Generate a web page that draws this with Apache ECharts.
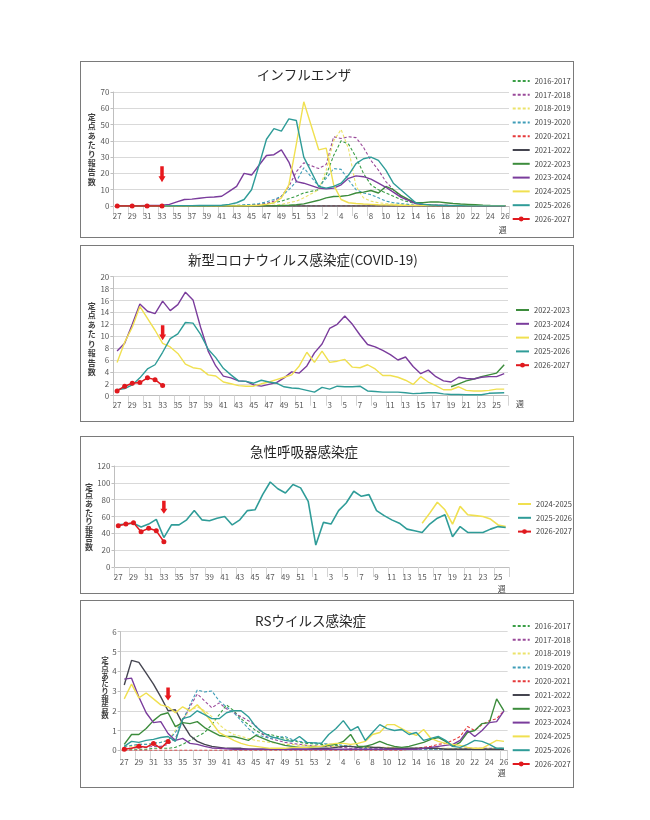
<!DOCTYPE html>
<html><head><meta charset="utf-8">
<script src="https://cdn.jsdelivr.net/npm/echarts@6/dist/echarts.min.js"></script>
<style>
body{margin:0;background:#fff;width:650px;height:820px;position:relative;overflow:hidden;}
.chart{position:absolute;left:80px;width:494px;}
.frame{position:absolute;left:80px;width:494px;border:1.3px solid #7a7a7a;box-sizing:border-box;pointer-events:none;}
</style></head><body>
<div id="p1" class="chart" style="top:61px;height:177px"></div><div class="frame" style="top:61px;height:177px"></div>
<div id="p2" class="chart" style="top:245px;height:177px"></div><div class="frame" style="top:245px;height:177px"></div>
<div id="p3" class="chart" style="top:436px;height:158px"></div><div class="frame" style="top:436px;height:158px"></div>
<div id="p4" class="chart" style="top:600px;height:188px"></div><div class="frame" style="top:600px;height:188px"></div>
<script>
// ---------- categories ----------
const weeks53 = ['27','28','29','30','31','32','33','34','35','36','37','38','39','40','41','42','43','44','45','46','47','48','49','50','51','52','53',
  '1','2','3','4','5','6','7','8','9','10','11','12','13','14','15','16','17','18','19','20','21','22','23','24','25','26'];
const weeks52 = ['27','28','29','30','31','32','33','34','35','36','37','38','39','40','41','42','43','44','45','46','47','48','49','50','51','52',
  '1','2','3','4','5','6','7','8','9','10','11','12','13','14','15','16','17','18','19','20','21','22','23','24','25','26'];
const seasons = ['2016-2017','2017-2018','2018-2019','2019-2020','2020-2021','2021-2022','2022-2023','2023-2024','2024-2025','2025-2026','2026-2027'];

// ---------- インフルエンザ ----------
const flu1617 = [0.1,0.1,0.1,0.1,0.1,0.1,0.1,0.1,0.1,0.1, 0.1,0.1,0.1,0.2,0.2,0.3,0.4,0.5,0.7,1, 1.5,2,3,4.5,6,8,null,10,19,31, 40,38,30,20,13,10,8,6,4,2.5, 1.5,1,0.7,0.5,0.4,0.3,0.3,0.2,0.2,0.1, 0.1,0.1,0.1];
const flu1718 = [0.1,0.1,0.1,0.1,0.1,0.1,0.1,0.1,0.1,0.1, 0.1,0.1,0.1,0.1,0.1,0.1,0.1,0.3,0.5,0.8, 1.5,3,6,12,21,26.5,null,23,25.5,42.5, 41.5,42.5,42,36,28,22,15,10,6,3.5, 2,1,0.6,0.4,0.3,0.2,0.1,0.1,0.1,0.1, 0.1,0.1,0.1];
const flu1819 = [0.1,0.1,0.1,0.1,0.1,0.1,0.1,0.1,0.1,0.1, 0.1,0.1,0.1,0.1,0.1,0.1,0.1,0.1,0.1,0.1, 0.1,0.5,1,2,3,5,null,10,22,40, 47,35,12,5,3,2,1.5,1.2,1,0.7, 0.5,0.4,0.3,0.2,0.1,0.1,0.1,0.1,0.1,0.1, 0.1,0.1,0.1];
const flu1920 = [0.3,0.3,0.3,0.3,0.3,0.3,0.3,0.3,0.3,0.3, 0.3,0.3,0.3,0.3,0.3,0.3,0.3,0.7,1,1.5, 2.5,4,6,10,15,23.5,null,12,17,23, 22.5,16,10,8,7,5,3,2,1.5,1, 0.5,0.3,0.1,0.1,0.1,0.1,0.1,0.1,0.1,0.1, 0.1,0.1,0.1];
const flu2021 = [0,0,0,0,0,0,0,0,0,0, 0,0,0,0,0,0,0,0,0,0, 0,0,0,0,0,0,0,0,0,0, 0,0,0,0,0,0,0,0,0,0, 0,0,0,0,0,0,0,0,0,0, 0,0,0];
const flu2122 = [0,0,0,0,0,0,0,0,0,0, 0,0,0,0,0,0,0,0,0,0, 0,0,0,0,0,0,null,0,0,0, 0,0,0,0,0,0,0,0,0,0, 0,0,0,0,0,0,0,0,0,0, 0,0,0];
const flu2223 = [0.1,0.1,0.1,0.1,0.1,0.1,0.1,0.1,0.1,0.1, 0.1,0.1,0.1,0.1,0.1,0.1,0.1,0.1,0.1,0.1, 0.1,0.1,0.3,0.5,0.8,1.3,null,3.5,5,5.8, 6,6.5,8,8.5,9.5,8,12,10,6.5,4, 2,2,2.5,2.5,2,1.5,1.2,1,0.8,0.5, 0.3,0.2,0.2];
const flu2324 = [0.1,0.1,0.2,0.2,0.3,0.4,0.5,1,2.5,4, 4.2,4.8,5.3,5.5,6,9,12,20,19,25, 31,31.5,34.5,27,15,14,null,11,10.5,11, 13,17,18.5,18,16.5,14,11.5,8.5,5.5,3.5, 1.5,0.8,0.5,0.4,0.3,0.2,0.2,0.1,0.1,0.1, 0.1,0.1,0.1];
const flu2425 = [0.1,0.1,0.1,0.1,0.1,0.1,0.1,0.1,0.1,0.1, 0.1,0.1,0.1,0.1,0.1,0.1,0.1,0.1,0.3,0.5, 1,2,5,13,38,64,null,34.5,35.5,13, 4,2,1.5,1.2,1,0.8,0.7,0.6,0.5,0.4, 0.3,0.2,0.2,0.2,0.2,0.2,0.2,0.2,0.2,0.2, 0.2,0.2,0.2];
const flu2526 = [0.1,0.1,0.1,0.1,0.1,0.1,0.1,0.1,0.2,0.2, 0.2,0.3,0.3,0.4,0.5,1,2,4,10,25, 41,47.5,46,53.5,52.5,30,null,12,11,12, 14,19,26,29,30,28,22,14,10,6, 2,1,0.6,0.4,0.3,0.2,0.2,0.1,0.1,0.1, 0.1,0.1,0.1];
const flu2627 = [0,0,0,0,0,0,0];

// ---------- 新型コロナウイルス感染症 ----------
const cov2223 = [null,null,null,null,null,null,null,null,null,null, null,null,null,null,null,null,null,null,null,null, null,null,null,null,null,null,null,null,null,null, null,null,null,null,null,null,null,null,null,null, null,null,null,null,1.5,2,2.5,2.8,3.2,3.5, 3.8,5.2];
const cov2324 = [7.5,8.8,12,15.4,14.2,13.8,15.9,14.3,15.3,17.4, 16.1,11.5,7.5,5,3.3,3.0,2.5,2.4,1.8,1.6, 1.9,2.2,3,4,3.8,5,7.2,8.7,11.3,12, 13.4,12,10.2,8.6,8.2,7.6,6.9,6,6.5,4.9, 3.7,4.3,3.2,2.5,2.3,3.1,2.9,2.8,3.1,3.2, 3.2,3.7];
const cov2425 = [5.6,9,11.5,15,13,11,8.8,8.2,7.1,5.3, 4.7,4.5,3.5,3.3,2.3,2,1.7,1.6,1.6,2, 2.3,2.7,3.1,3.5,5,7.3,5.6,7.5,5.6,5.8, 6.1,4.8,4.7,5.2,4.5,3.4,3.4,3.1,2.6,1.9, 3.2,2.3,1.7,1,1,1.5,0.9,0.8,0.8,0.9, 1.1,1.1];
const cov2526 = [1,1.2,1.8,3,4.5,5.2,7.3,9.6,10.4,12.3, 12.2,10.3,7.8,6.4,4.6,3.5,2.5,2.4,2.1,2.6, 2.3,2.1,1.5,1.3,1.2,0.9,0.6,1.4,1.1,1.6, 1.5,1.5,1.6,0.8,0.7,0.6,0.6,0.6,0.5,0.35, 0.4,0.5,0.5,0.3,0.2,0.2,0.15,0.15,0.15,0.4, 0.45,0.5];
const cov2627 = [0.8,1.6,2.1,2.2,3.0,2.7,1.7];

// ---------- 急性呼吸器感染症 ----------
const ari2425 = [null,null,null,null,null,null,null,null,null,null, null,null,null,null,null,null,null,null,null,null, null,null,null,null,null,null,null,null,null,null, null,null,null,null,null,null,null,null,null,null, 52,64,77,68,51,72,62,61,60,57, 50,48];
const ari2526 = [50,51,52,47.5,51,56.6,35,50,50,56, 67,56,55,58,60,50,56,67,68,86, 101,93,88,98,94,78,26,53,51,67, 76,90,84,86,67,61,56,52,45,43, 41,51,58,62,36,48,41,41,41,45, 48,47];
const ari2627 = [49,51,52.5,42,46,43,30];

// ---------- RSウイルス感染症 ----------
const rs1617 = [0.05,0.05,0.05,0.05,0.1,0.1,0.1,0.15,0.3,0.5, 0.7,0.9,1.3,1.8,2.3,2.0,1.6,1.3,1.0,0.8, 0.8,0.7,0.6,0.5,0.4,0.35,null,0.3,0.3,0.25, 0.2,0.2,0.15,0.15,0.15,0.1,0.1,0.1,0.1,0.1, 0.1,0.1,0.05,0.05,0.05,0.05,0.05,0.05,0.05,0.05, 0.05,0.05,0.05];
const rs1718 = [0.1,0.1,0.15,0.15,0.2,0.2,0.3,0.6,1.5,2.2, 2.85,2.5,2.15,2.4,2.1,1.9,1.7,1.5,1.25,0.8, 0.6,0.5,0.4,0.35,0.3,0.25,null,0.2,0.2,0.15, 0.15,0.1,0.1,0.1,0.1,0.1,0.1,0.05,0.05,0.05, 0.05,0.05,0.05,0.05,0.05,0.05,0.1,0.1,0.1,0.1, 0.1,0.1,0.1];
const rs1819 = [0.2,0.2,0.3,0.3,0.35,0.4,0.5,1.0,1.6,2.0, 2.2,2.0,1.7,1.3,1.0,0.8,0.7,0.6,0.5,0.45, 0.4,0.35,0.3,0.3,0.25,0.25,null,0.2,0.2,0.2, 0.2,0.2,0.2,0.15,0.15,0.15,0.15,0.15,0.1,0.1, 0.1,0.1,0.1,0.1,0.1,0.1,0.1,0.1,0.1,0.1, 0.1,0.1,0.1];
const rs1920 = [0.2,0.25,0.3,0.3,0.35,0.4,0.5,0.9,1.5,2.3, 3.05,2.95,3.0,2.5,2.2,1.9,1.5,1.1,0.8,0.7, 0.6,0.65,0.7,0.55,0.45,0.4,null,0.35,0.3,0.3, 0.25,0.2,0.15,0.1,0.05,0.05,0.05,0.05,0.05,0.05, 0.05,0.05,0.05,0.05,0.05,0.05,0.05,0.05,0.05,0.05, 0.05,0.05,0.05];
const rs2021 = [0,0,0,0,0,0,0,0,0,0, 0,0,0,0,0,0,0,0,0,0, 0,0,0,0,0,0,0,0,0,0, 0,0,0,0,0,0,0,0,0,0.05, 0.1,0.15,0.2,0.3,0.35,0.5,0.7,1.2,1.0,1.3, 1.5,1.6,2.0];
const rs2122 = [3.3,4.55,4.45,3.9,3.35,2.7,2.0,2.05,1.35,0.75, 0.45,0.3,0.2,0.15,0.1,0.1,0.1,0.05,0.05,0.05, 0.05,0.05,0.05,0.05,0.05,0.05,null,0.1,0.1,0.15, 0.2,0.2,0.15,0.2,0.15,0.15,0.1,0.1,0.1,0.1, 0.1,0.1,0.1,0.1,0.05,0.05,0.05,0.05,0.05,0.05, 0.05,0.05,0.05];
const rs2223 = [0.3,0.8,0.8,1.1,1.5,1.8,1.9,1.2,1.4,1.35, 1.45,1.15,0.95,0.75,0.7,0.7,0.6,0.5,0.75,0.6, 0.45,0.35,0.25,0.2,0.15,0.15,null,0.2,0.25,0.3, 0.45,0.8,0.2,0.2,0.3,0.45,0.3,0.2,0.15,0.2, 0.3,0.4,0.55,0.65,0.45,0.2,0.4,0.9,1.0,1.35, 1.4,2.6,2.0];
const rs2324 = [3.6,3.65,2.7,1.9,1.4,1.45,0.85,0.5,0.6,0.35, 0.3,0.2,0.12,0.1,0.08,0.05,0.05,0.05,0.05,0.05, 0.05,0.05,0.05,0.05,0.05,0.05,null,0.05,0.05,0.05, 0.05,0.05,0.05,0.05,0.05,0.05,0.05,0.05,0.05,0.05, 0.05,0.1,0.15,0.2,0.25,0.3,0.5,1.0,0.7,1.0, 1.4,1.45,2.0];
const rs2425 = [2.6,3.35,2.65,2.9,2.6,2.3,2.2,1.9,2.2,2.0, 2.3,1.9,1.4,0.9,0.7,0.5,0.35,0.25,0.2,0.15, 0.1,0.1,0.1,0.15,0.15,0.15,null,0.2,0.3,0.35, 0.35,0.3,0.35,0.45,0.8,0.9,1.3,1.3,1.1,0.9, 0.75,1.05,0.6,0.45,0.35,0.3,0.25,0.15,0.1,0.1, 0.3,0.5,0.45];
const rs2526 = [0.2,0.45,0.4,0.5,0.55,0.65,0.7,0.45,1.6,1.7, 2.0,1.8,1.6,1.6,1.9,2.0,2.0,1.7,1.2,0.9, 0.7,0.6,0.5,0.45,0.7,0.4,null,0.35,0.8,1.1, 1.5,1.0,1.2,0.5,0.9,1.3,1.1,1.0,1.05,0.8, 0.9,0.5,0.6,0.7,0.5,0.2,0.15,0.3,0.5,0.45, 0.3,0.1,0.1];
const rs2627 = [0.05,0.1,0.2,0.15,0.35,0.1,0.45];

// ---------- arrows (current week) ----------
const arrowWeek = '33';
const arrowFlu = 19.5, arrowCov = 10.6, arrowAri = 71, arrowRs = 2.85;

// ---------- styling ----------
const FONT = '"Noto Sans CJK JP","Noto Sans",sans-serif';
const STY = {
  '2016-2017': {c:'#3a9e46', d:true},
  '2017-2018': {c:'#9a4a9a', d:true},
  '2018-2019': {c:'#ece36a', d:true},
  '2019-2020': {c:'#3e9db8', d:true},
  '2020-2021': {c:'#e5393a', d:true},
  '2021-2022': {c:'#454550', d:false},
  '2022-2023': {c:'#3c8c3c', d:false},
  '2023-2024': {c:'#7a3c9c', d:false},
  '2024-2025': {c:'#f0e050', d:false},
  '2025-2026': {c:'#2f9c98', d:false},
  '2026-2027': {c:'#e0191e', d:false}
};
const CUR = '2026-2027';
const ARROW = 'path://M2,0 L6,0 L6,10 L8,10 L4,16 L0,10 L2,10 Z';

function mkSeries(name, data, cats, arrowVal, arrowH, widths){
  const s = STY[name];
  const o = {type:'line', name, data, connectNulls:true, animation:false, silent:true,
    lineStyle:{color:s.c, width: s.d ? widths[0] : widths[1], type: s.d ? [3,2] : 'solid'},
    itemStyle:{color:s.c}, symbol:'none', emphasis:{disabled:true}};
  if (name === CUR) {
    o.symbol = 'circle'; o.symbolSize = 5; o.showSymbol = true;
    o.lineStyle.width = 1.5; o.z = 5;
    o.markPoint = {symbol: ARROW, symbolSize:[7, arrowH], symbolKeepAspect:false, silent:true,
      itemStyle:{color:'#e8191e'}, label:{show:false},
      data:[{coord:[cats.indexOf(arrowWeek), arrowVal]}]};
  }
  return o;
}

function build(id, p){
  const chart = echarts.init(document.getElementById(id), null, {renderer:'canvas'});
  const series = p.names.map((n,i)=>mkSeries(n, p.data[i], p.cats, p.arrowVal, p.arrowH, p.widths));
  const legendData = p.names.map(n => n === CUR ? {name:n} : {name:n, itemStyle:{opacity:0}});
  chart.setOption({
    animation:false,
    textStyle:{fontFamily:FONT},
    grid:{left:p.grid[0], top:p.grid[1], width:p.grid[2], height:p.grid[3], containLabel:false},
    xAxis:{type:'category', data:p.cats, boundaryGap:true,
      axisLine:{lineStyle:{color:'#bfbfbf', width:1}},
      axisTick:{show:true, interval:1, length:p.tickLen, lineStyle:{color:'#d4d4d4'}},
      axisLabel:{interval:1, fontSize:8, color:'#595959', margin:p.labMargin, fontFamily:FONT},
      splitLine:{show:false}},
    yAxis:{type:'value', min:p.y[0], max:p.y[1], interval:p.y[2],
      axisLine:{show:true, lineStyle:{color:'#bfbfbf'}},
      axisTick:{show:true, length:3, lineStyle:{color:'#bfbfbf'}},
      axisLabel:{fontSize:8, color:'#595959', margin:4, fontFamily:FONT},
      splitLine:{lineStyle:{color:'#d9d9d9', width:1}}},
    legend:{orient:'vertical', left:p.legend[0], top:p.legend[1], itemWidth:p.legend[2], itemHeight:6,
      itemGap:3.8, padding:0, data:legendData, selectedMode:false,
      textStyle:{fontSize:7.5, color:'#404040', lineHeight:10, fontFamily:FONT}},
    graphic:[
      {type:'text', x:p.title[1], y:p.title[2], silent:true,
        style:{text:p.title[0], fontSize:13.5, fontFamily:FONT, fill:'#262626', align:'center', verticalAlign:'middle'}},
      {type:'text', x:p.yname[0], y:p.yname[1], silent:true,
        style:{text:'定\n点\nあ\nた\nり\n報\n告\n数', fontSize:p.yname[3], fontWeight:'bold', fontFamily:FONT,
          fill:'#404040', align:'center', verticalAlign:'top', lineHeight:p.yname[2]}},
      {type:'text', x:p.week[0], y:p.week[1], silent:true,
        style:{text:'週', fontSize:8, fontFamily:FONT, fill:'#404040', align:'center', verticalAlign:'middle'}}
    ],
    series
  });
}

build('p1', {
  title:['インフルエンザ', 224, 14],
  cats:weeks53, y:[0,70,10], grid:[33.5,31,395.5,114], tickLen:10, labMargin:6,
  legend:[431.7,15,17], widths:[1.1,1.4],
  names:seasons,
  data:[flu1617,flu1718,flu1819,flu1920,flu2021,flu2122,flu2223,flu2324,flu2425,flu2526,flu2627],
  arrowVal:arrowFlu, arrowH:16,
  yname:[11.7,51.5,9.2,8], week:[422.7,168.5]
});
build('p2', {
  title:['新型コロナウイルス感染症(COVID-19)', 223, 15],
  cats:weeks52, y:[0,20,2], grid:[33.3,31.7,394.7,119], tickLen:10, labMargin:5,
  legend:[435,60,13], widths:[1.1,1.4],
  names:['2022-2023','2023-2024','2024-2025','2025-2026','2026-2027'],
  data:[cov2223,cov2324,cov2425,cov2526,cov2627],
  arrowVal:arrowCov, arrowH:15,
  yname:[11.7,56,9.5,8], week:[440,159]
});
build('p3', {
  title:['急性呼吸器感染症', 224, 16],
  cats:weeks52, y:[0,120,20], grid:[34.5,30,395,101], tickLen:10, labMargin:6,
  legend:[437,63,13], widths:[1.1,1.6],
  names:['2024-2025','2025-2026','2026-2027'],
  data:[ari2425,ari2526,ari2627],
  arrowVal:arrowAri, arrowH:13,
  yname:[9,46.4,8.6,8], week:[421.7,153]
});
build('p4', {
  title:['RSウイルス感染症', 230.5, 21],
  cats:weeks53, y:[0,6,1], grid:[40.6,31.7,387,118.6], tickLen:10, labMargin:8,
  legend:[431.7,21,17], widths:[1.1,1.4],
  names:seasons,
  data:[rs1617,rs1718,rs1819,rs1920,rs2021,rs2122,rs2223,rs2324,rs2425,rs2526,rs2627],
  arrowVal:arrowRs, arrowH:13,
  yname:[25,56,7.9,7.5], week:[421.7,173]
});
</script>
</body></html>
